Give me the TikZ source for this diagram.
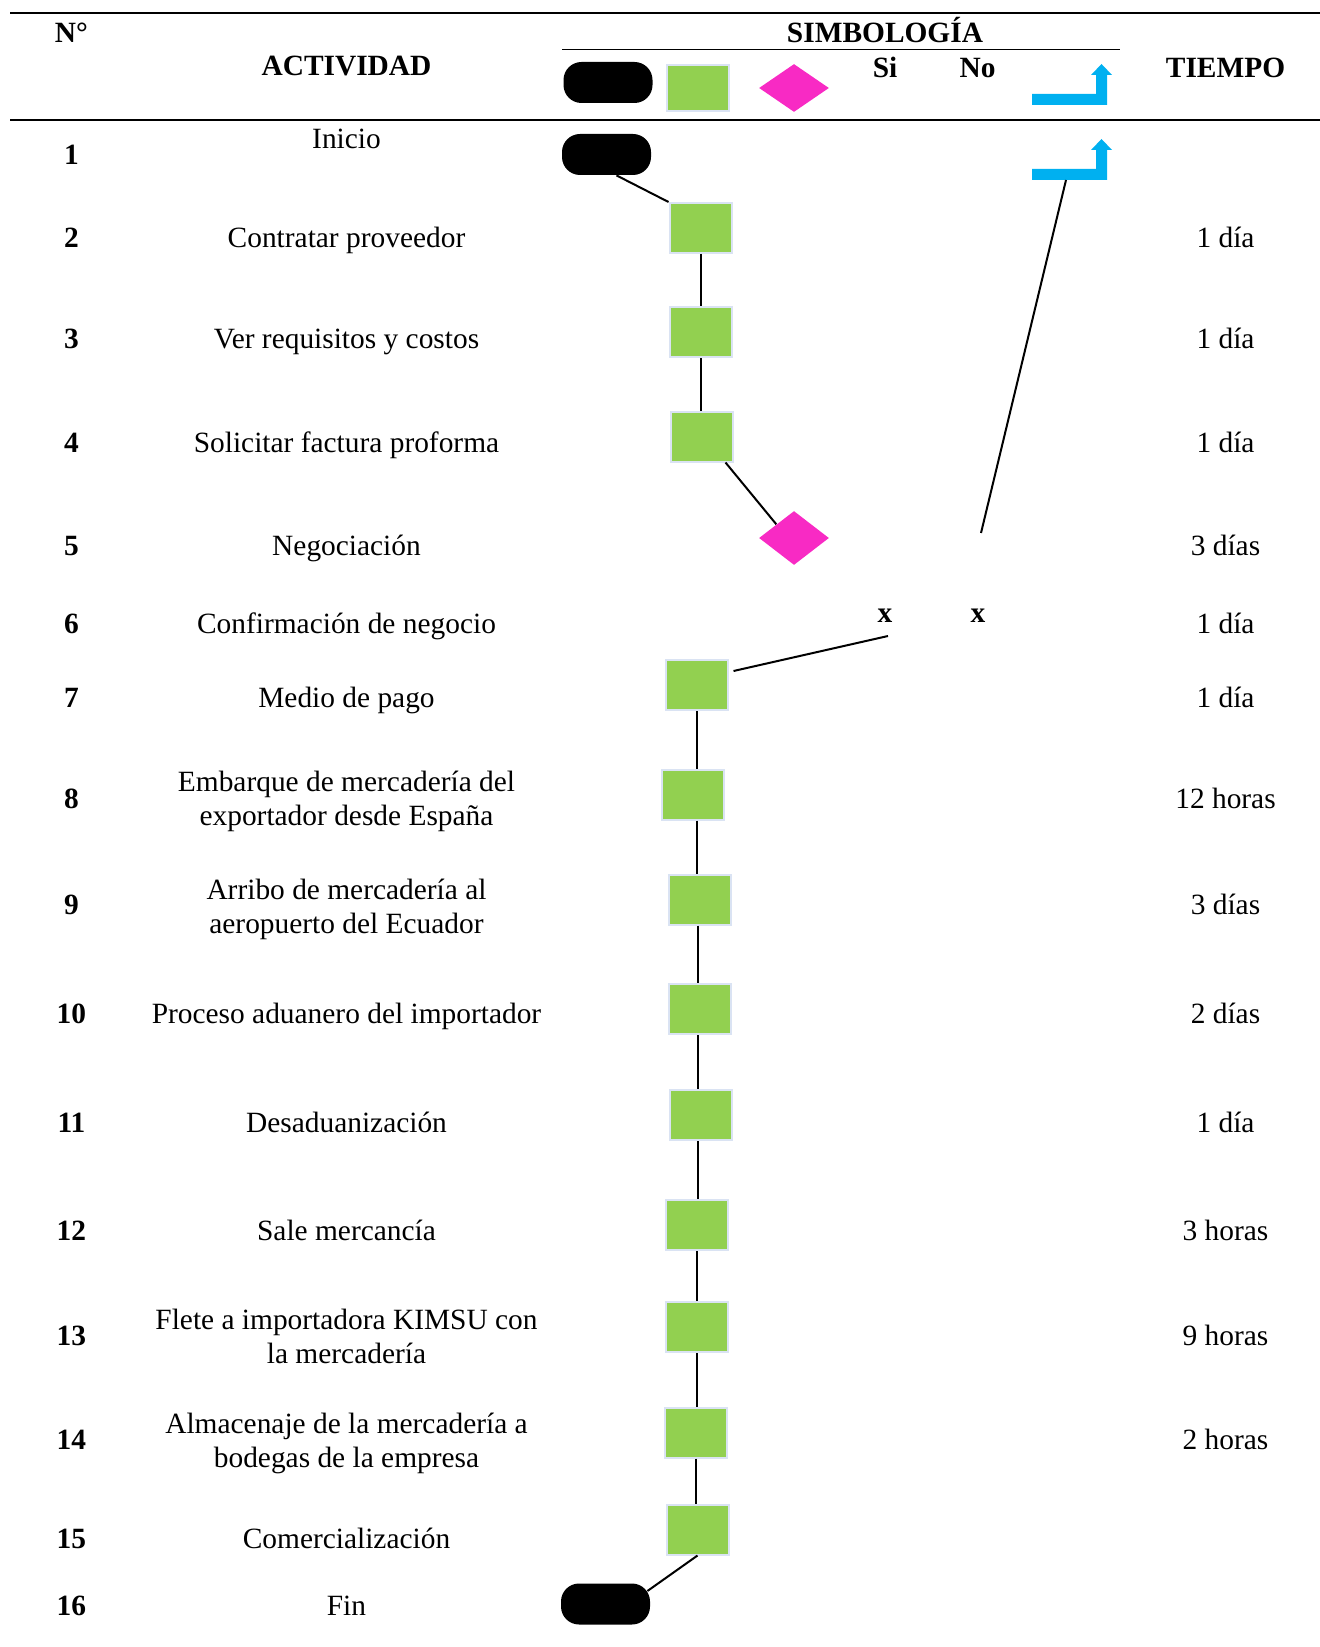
\documentclass[tikz,border=0pt]{standalone}
\usepackage{fontspec}
\setmainfont{Liberation Serif}
\usetikzlibrary{shapes.geometric,calc}
\definecolor{grn}{RGB}{146,208,80}
\definecolor{grnedge}{RGB}{218,227,243}
\definecolor{pnk}{RGB}{248,42,196}
\definecolor{blu}{RGB}{0,176,240}
\begin{document}
\begin{tikzpicture}[x=0.5pt,y=-0.5pt,
  txt/.style={font=\fontsize{14.7}{16.8}\selectfont, align=center, inner sep=0pt, anchor=base},
  bf/.style={txt, font=\fontsize{14.7}{16.8}\selectfont\bfseries},
  proc/.style={draw=grnedge, line width=1pt, fill=grn, minimum width=31pt, minimum height=25pt, inner sep=0pt},
  term/.style={fill=black, rounded corners=9pt, minimum width=44.5pt, minimum height=20.5pt, inner sep=0pt},
  dec/.style={diamond, fill=pnk, minimum width=35pt, minimum height=27pt, inner sep=0pt},
  link/.style={line width=1pt},
  rule/.style={line width=1pt},
  bluecorner/.pic={\fill[blu] (-75,0) -- (0,0) -- (0,-30) -- (5,-30) -- (-5.5,-41) -- (-16,-30) -- (-11,-30) -- (-11,-11) -- (-75,-11) -- cycle;}
]
\useasboundingbox (0,0) rectangle (1320,1647);

% table rules
\draw[rule] (10,13.5) -- (1320,13.5);
\draw[rule] (10,120.5) -- (1320,120.5);
\draw[line width=0.8pt] (562,49.5) -- (1120,49.5);

% header
\node[bf] (hno) at (71.4,43) {N°};
\node[bf] (hsim) at (885,43) {SIMBOLOGÍA};
\node[bf] (hact) at (346.5,76) {ACTIVIDAD};
\node[bf] (hsi) at (885,78) {Si};
\node[bf] (hnoo) at (977.6,78) {No};
\node[bf] (htie) at (1225.5,78) {TIEMPO};
\node[term] (ht) at (608,82.5) {};
\node[proc, minimum height=23pt] (hp) at (698,88) {};
\node[dec, minimum height=24pt] (hd) at (794,88) {};
\pic at (1107,105) {bluecorner};

% numbers
\node[bf] (n1) at (71.4,165) {1};
\node[bf] (n2) at (71.4,248) {2};
\node[bf] (n3) at (71.4,348.5) {3};
\node[bf] (n4) at (71.4,452.5) {4};
\node[bf] (n5) at (71.4,555.5) {5};
\node[bf] (n6) at (71.4,633.5) {6};
\node[bf] (n7) at (71.4,707.5) {7};
\node[bf] (n8) at (71.4,808.5) {8};
\node[bf] (n9) at (71.4,914.5) {9};
\node[bf] (n10) at (71.4,1023.5) {10};
\node[bf] (n11) at (71.4,1132) {11};
\node[bf] (n12) at (71.4,1240.5) {12};
\node[bf] (n13) at (71.4,1345.5) {13};
\node[bf] (n14) at (71.4,1449.5) {14};
\node[bf] (n15) at (71.4,1548.5) {15};
\node[bf] (n16) at (71.4,1615) {16};

% activities
\node[txt] (a1) at (346.5,149) {Inicio};
\node[txt] (a2) at (346.5,248) {Contratar proveedor};
\node[txt] (a3) at (346.5,348.5) {Ver requisitos y costos};
\node[txt] (a4) at (346.5,452.5) {Solicitar factura proforma};
\node[txt] (a5) at (346.5,555.5) {Negociación};
\node[txt] (a6) at (346.5,633.5) {Confirmación de negocio};
\node[txt] (a7) at (346.5,707.5) {Medio de pago};
\node[txt] (a8) at (346.5,825) {Embarque de mercadería del\\exportador desde España};
\node[txt] (a9) at (346.5,933.5) {Arribo de mercadería al\\aeropuerto del Ecuador};
\node[txt] (a10) at (346.5,1023.5) {Proceso aduanero del importador};
\node[txt] (a11) at (346.5,1132) {Desaduanización};
\node[txt] (a12) at (346.5,1240.5) {Sale mercancía};
\node[txt] (a13) at (346.5,1363) {Flete a importadora KIMSU con\\la mercadería};
\node[txt] (a14) at (346.5,1467) {Almacenaje de la mercadería a\\bodegas de la empresa};
\node[txt] (a15) at (346.5,1548.5) {Comercialización};
\node[txt] (a16) at (346.5,1615) {Fin};

% times
\node[txt] (t2) at (1225.5,248) {1 día};
\node[txt] (t3) at (1225.5,348.5) {1 día};
\node[txt] (t4) at (1225.5,452.5) {1 día};
\node[txt] (t5) at (1225.5,555.5) {3 días};
\node[txt] (t6) at (1225.5,633.5) {1 día};
\node[txt] (t7) at (1225.5,707.5) {1 día};
\node[txt] (t8) at (1225.5,808.5) {12 horas};
\node[txt] (t9) at (1225.5,914.5) {3 días};
\node[txt] (t10) at (1225.5,1023.5) {2 días};
\node[txt] (t11) at (1225.5,1132) {1 día};
\node[txt] (t12) at (1225.5,1240.5) {3 horas};
\node[txt] (t13) at (1225.5,1345.5) {9 horas};
\node[txt] (t14) at (1225.5,1449.5) {2 horas};

% flow symbols
\node[term] (s1) at (606.5,154.5) {};
\pic at (1107,180) {bluecorner};
\node[proc] (r2) at (700.5,228) {};
\node[proc] (r3) at (700.5,332) {};
\node[proc] (r4) at (701.5,436.5) {};
\node[dec] (d5) at (794,538) {};
\node[bf] (xsi) at (885,622) {x};
\node[bf] (xno) at (978,622) {x};
\node[proc] (r7) at (696.5,685) {};
\node[proc] (r8) at (693,794.5) {};
\node[proc] (r9) at (699.5,899.5) {};
\node[proc] (r10) at (699.5,1009) {};
\node[proc] (r11) at (700.5,1115) {};
\node[proc] (r12) at (697,1225) {};
\node[proc] (r13) at (697,1327) {};
\node[proc] (r14) at (695.5,1432.5) {};
\node[proc] (r15) at (697.5,1529.5) {};
\node[term] (s16) at (605.5,1604) {};

\coordinate (bc1) at (1066,180);
\coordinate (noend) at (981,533);

% connectors
\draw[link] ($(s1.south)+(10,0)$) -- (r2.north west);
\draw[link] (r2.south) -- (r2.south |- r3.north);
\draw[link] (r3.south) -- (r3.south |- r4.north);
\draw[link] ($(r4.south east)+(-8,0)$) -- (d5.north west);
\draw[link] (bc1) -- (noend);
\draw[link] ($(xsi.base)+(3,14)$) -- ($(r7.north east)+(5,12)$);
\draw[link] (r7.south) -- (r7.south |- r8.north);
\draw[link] ($(r8.south)+(4,0)$) -- ($(r8.south |- r9.north)+(4,0)$);
\draw[link] ($(r9.south)+(-2,0)$) -- ($(r9.south |- r10.north)+(-2,0)$);
\draw[link] ($(r10.south)+(-2,0)$) -- ($(r10.south |- r11.north)+(-2,0)$);
\draw[link] ($(r11.south)+(-3,0)$) -- ($(r11.south |- r12.north)+(-3,0)$);
\draw[link] (r12.south) -- (r12.south |- r13.north);
\draw[link] (r13.south) -- (r13.south |- r14.north);
\draw[link] (r14.south) -- (r14.south |- r15.north);
\draw[link] (r15.south) -- ($(s16.east)+(-3,-13)$);
\end{tikzpicture}
\end{document}
